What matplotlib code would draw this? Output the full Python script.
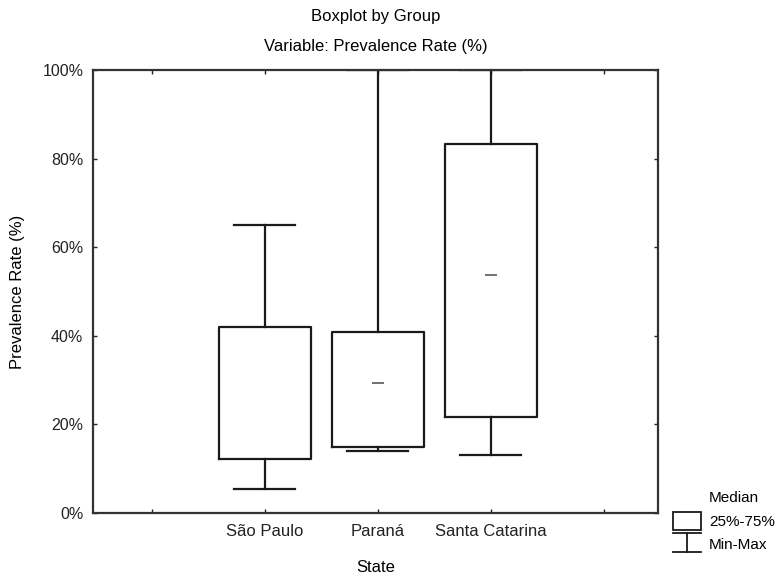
import matplotlib
matplotlib.use("Agg")
import matplotlib.pyplot as plt
from matplotlib.patches import Rectangle
from matplotlib.lines import Line2D

plt.rcParams['font.family'] = ['Liberation Sans', 'DejaVu Sans']

states = ["São Paulo", "Paraná", "Santa Catarina"]
positions = [2, 3, 4]
q1 = [12.3, 14.8, 21.6]
q3 = [41.9, 40.9, 83.4]
whisker_lo = [5.4, 14.0, 13.1]
whisker_hi = [65.0, 100.0, 100.0]
medians = [None, 29.3, 53.7]
yticks = [0, 20, 40, 60, 80, 100]
ytick_labels = ["0%", "20%", "40%", "60%", "80%", "100%"]

W, H = 779, 576
fig = plt.figure(figsize=(7.79, 5.76), dpi=100)
ax = fig.add_axes([93/W, 63/H, 565/W, 443/H])

stats = []
for i in range(len(states)):
    stats.append(dict(q1=q1[i], q3=q3[i], whislo=whisker_lo[i], whishi=whisker_hi[i],
                      med=q1[i], fliers=[], label=states[i]))

lc = "#1a1a1a"
ax.bxp(stats, positions=positions, widths=0.81, showfliers=False,
       boxprops=dict(color=lc, linewidth=1.6),
       whiskerprops=dict(color=lc, linewidth=1.6),
       capprops=dict(color=lc, linewidth=1.6),
       medianprops=dict(linewidth=0),
       capwidths=0.54)

for p, m in zip(positions, medians):
    if m is not None:
        ax.plot([p], [m], marker='_', markersize=8, markeredgewidth=1.3,
                color="#666666", linestyle='none')

ax.set_xlim(0.48, 5.48)
ax.set_ylim(0, 100)
ax.set_xticks([1, 2, 3, 4, 5])
ax.set_xticklabels(["", *states, ""], fontsize=12)
ax.set_yticks(yticks)
ax.set_yticklabels(ytick_labels, fontsize=11.5)
ax.tick_params(direction='in', length=3, width=1, top=True, right=True,
               colors="#222222", pad=8)
ax.tick_params(axis='y', pad=7)
for s in ax.spines.values():
    s.set_linewidth(1.6)
    s.set_color("#333333")

ax.set_xlabel("State", fontsize=12, va='center')
ax.xaxis.set_label_coords(0.5, (513 - 567) / 443)
ax.set_ylabel("Prevalence Rate (%)", fontsize=12, va='center')
ax.yaxis.set_label_coords((18 - 93) / 565, 0.5)

fig.text(375.5/W, 1 - 17/H, "Boxplot by Group", ha='center', va='center', fontsize=12)
fig.text(375.5/W, 1 - 46/H, "Variable: Prevalence Rate (%)", ha='center', va='center', fontsize=12)

# legend (outside axes, bottom right)
def fx(x): return x / W
def fy(y): return 1 - y / H
fig.add_artist(Rectangle((fx(673), fy(530)), fx(701) - fx(673), fy(512) - fy(530),
                         transform=fig.transFigure, fill=False, edgecolor=lc, linewidth=1.3))
fig.add_artist(Line2D([fx(673), fx(701)], [fy(533), fy(533)], transform=fig.transFigure,
                      color=lc, linewidth=1.3))
fig.add_artist(Line2D([fx(687), fx(687)], [fy(533), fy(552)], transform=fig.transFigure,
                      color=lc, linewidth=1.3))
fig.add_artist(Line2D([fx(673), fx(701)], [fy(552), fy(552)], transform=fig.transFigure,
                      color=lc, linewidth=1.3))
fig.text(fx(709), fy(498), "Median", ha='left', va='center', fontsize=11)
fig.text(fx(709), fy(522), "25%-75%", ha='left', va='center', fontsize=11)
fig.text(fx(709), fy(545), "Min-Max", ha='left', va='center', fontsize=11)

fig.savefig("out.png", dpi=100)
